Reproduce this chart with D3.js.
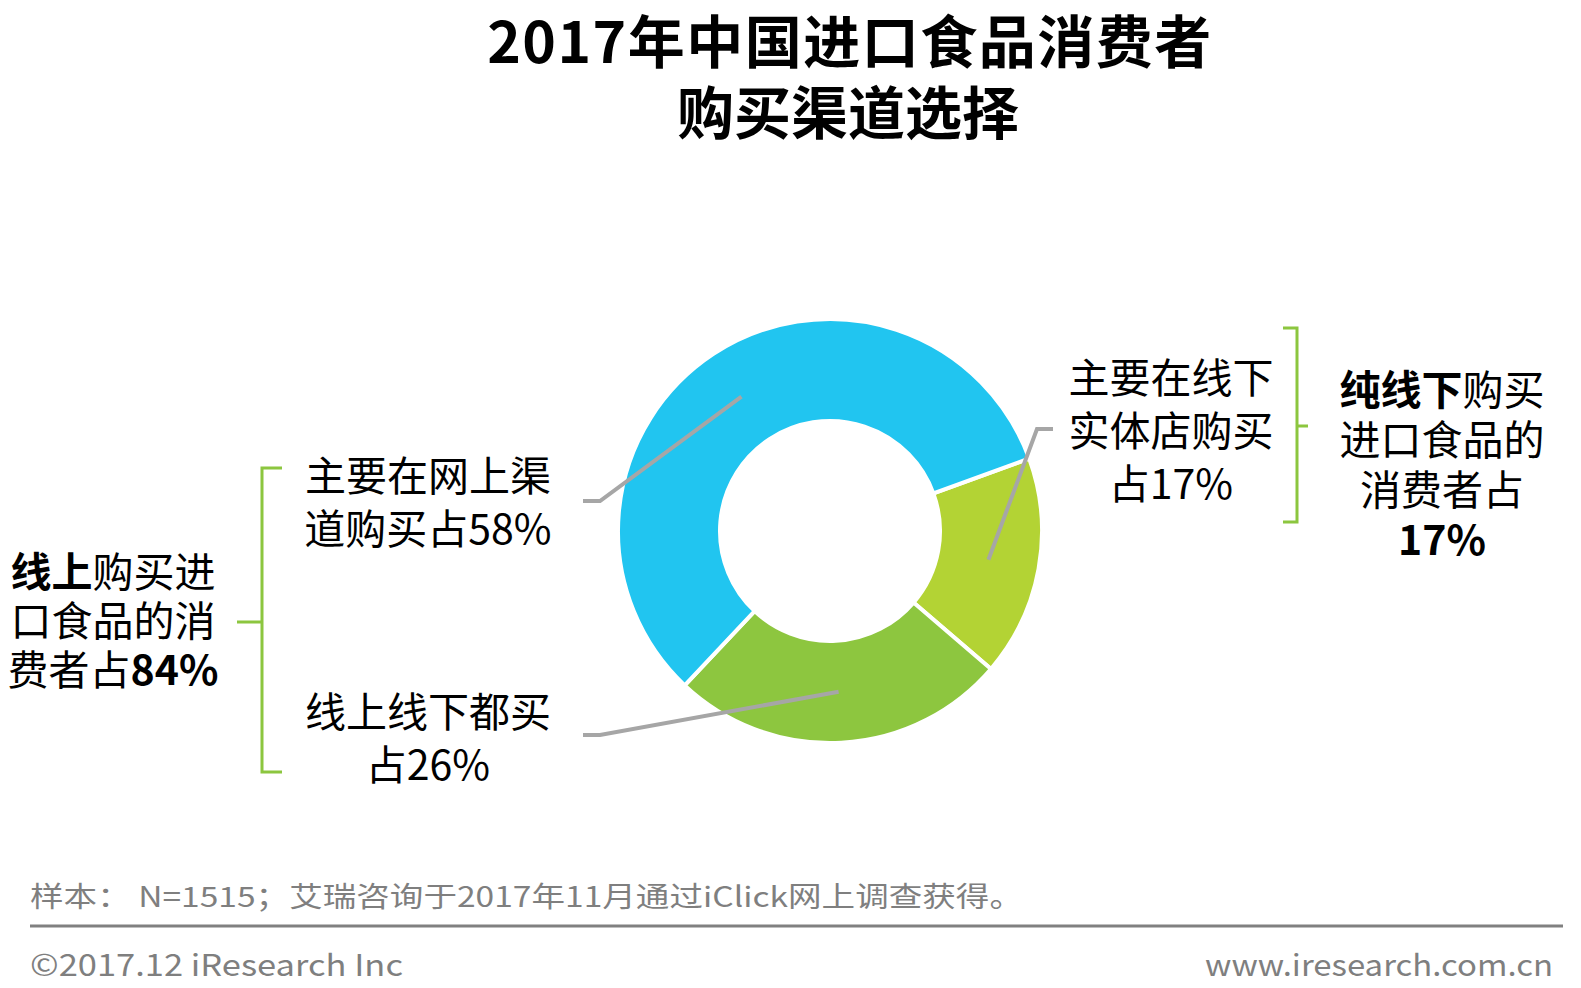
<!DOCTYPE html>
<html>
<head>
<meta charset="utf-8">
<script src="https://cdn.jsdelivr.net/npm/d3@7"></script>
<style>
  body { margin: 0; background: #fff; }
  text { font-family: "Noto Sans CJK SC", "Noto Sans", sans-serif; }
</style>
</head>
<body>
<svg width="1581" height="988"></svg>
<script>
// slices, in drawing order (clockwise from about 2 o'clock)
const categories = ['主要在线下实体店购买', '线上线下都买', '主要在网上渠道购买'];
const values = [17, 26, 58];
const colors = ['#b3d334', '#8dc63f', '#21c5f0'];

// label lines for each slice
const sliceLabels = [
    ['主要在线下', '实体店购买', '占17%'],
    ['线上线下都买', '占26%'],
    ['主要在网上渠', '道购买占58%']
];

const width = 1581;
const height = 988;
const cx = 830, cy = 531;
const outerR = 212, innerR = 110;

const svg = d3.select('svg');

// title, one text per line
svg.append('text')
    .attr('x', 850).attr('y', 63)
    .attr('text-anchor', 'middle')
    .attr('font-weight', 'bold')
    .attr('font-size', 57)
    .attr('letter-spacing', 1.5)
    .text('2017年中国进口食品消费者');
svg.append('text')
    .attr('x', 848).attr('y', 134)
    .attr('text-anchor', 'middle')
    .attr('font-weight', 'bold')
    .attr('font-size', 57)
    .text('购买渠道选择');

// donut
const g = svg.append('g')
    .attr('transform', `translate(${cx}, ${cy})`);

const start = 70 * Math.PI / 180;
const pie = d3.pie().sort(null).startAngle(start).endAngle(start + 2 * Math.PI);
const arcs = pie(values);
const arc = d3.arc().innerRadius(innerR).outerRadius(outerR);

g.selectAll('path')
    .data(arcs)
    .enter()
    .append('path')
    .attr('d', arc)
    .attr('fill', (d, i) => colors[i])
    .attr('stroke', 'white')
    .attr('stroke-width', 4);

// leader lines: centroid -> elbow -> end (elbow/end in page coords)
const leaders = [
    { elbow: [1037, 429], end: [1053, 429] },
    { elbow: [600, 735], end: [583, 735] },
    { elbow: [600, 501], end: [583, 501] }
];

arcs.forEach((d, i) => {
    const c = arc.centroid(d);
    const pts = [[c[0] + cx, c[1] + cy], leaders[i].elbow, leaders[i].end];
    svg.append('path')
        .attr('d', d3.line()(pts))
        .attr('fill', 'none')
        .attr('stroke', '#a6a6a6')
        .attr('stroke-width', 4);
});

// slice labels
const labelPos = [
    { x: 1171, y: 393, lh: 53 },
    { x: 428, y: 727, lh: 53 },
    { x: 428, y: 491, lh: 53 }
];

sliceLabels.forEach((lines, i) => {
    lines.forEach((s, j) => {
        svg.append('text')
            .attr('x', labelPos[i].x)
            .attr('y', labelPos[i].y + j * labelPos[i].lh)
            .attr('text-anchor', 'middle')
            .attr('font-size', 41)
            .attr('fill', '#000')
            .text(s);
    });
});

// brackets
const bracketColor = '#8cc63f';
svg.append('path')
    .attr('d', 'M282,468 H262 V772 H282 M262,622 H237')
    .attr('fill', 'none')
    .attr('stroke', bracketColor)
    .attr('stroke-width', 3);
svg.append('path')
    .attr('d', 'M1283,328 H1297 V522 H1283 M1297,426 H1308')
    .attr('fill', 'none')
    .attr('stroke', bracketColor)
    .attr('stroke-width', 3);

// group summaries (bold parts marked)
const leftSummary = [
    [['线上', true], ['购买进', false]],
    [['口食品的消', false]],
    [['费者占', false], ['84%', true]]
];
const rightSummary = [
    [['纯线下', true], ['购买', false]],
    [['进口食品的', false]],
    [['消费者占', false]],
    [['17%', true]]
];

function drawSummary(lines, x, y0, lh) {
    lines.forEach((parts, j) => {
        const t = svg.append('text')
            .attr('x', x)
            .attr('y', y0 + j * lh)
            .attr('text-anchor', 'middle')
            .attr('font-size', 41)
            .attr('fill', '#000');
        parts.forEach(p => {
            t.append('tspan')
                .attr('font-weight', p[1] ? 'bold' : 'normal')
                .text(p[0]);
        });
    });
}
drawSummary(leftSummary, 113, 587, 49);
drawSummary(rightSummary, 1442, 405, 50);

// footer
svg.append('text')
    .attr('x', 30)
    .attr('y', 907)
    .attr('font-size', 28)
    .attr('fill', '#7f7f7f')
    .attr('textLength', 993)
    .attr('lengthAdjust', 'spacingAndGlyphs')
    .text('样本： N=1515；艾瑞咨询于2017年11月通过iClick网上调查获得。');

svg.append('line')
    .attr('x1', 30).attr('x2', 1563)
    .attr('y1', 926).attr('y2', 926)
    .attr('stroke', '#808080')
    .attr('stroke-width', 3);

svg.append('text')
    .attr('x', 30)
    .attr('y', 976)
    .attr('font-size', 30)
    .attr('fill', '#7f7f7f')
    .attr('textLength', 373)
    .attr('lengthAdjust', 'spacingAndGlyphs')
    .text('©2017.12 iResearch Inc');

svg.append('text')
    .attr('x', 1553)
    .attr('y', 976)
    .attr('font-size', 30)
    .attr('text-anchor', 'end')
    .attr('fill', '#7f7f7f')
    .attr('textLength', 348)
    .attr('lengthAdjust', 'spacingAndGlyphs')
    .text('www.iresearch.com.cn');
</script>
</body>
</html>
